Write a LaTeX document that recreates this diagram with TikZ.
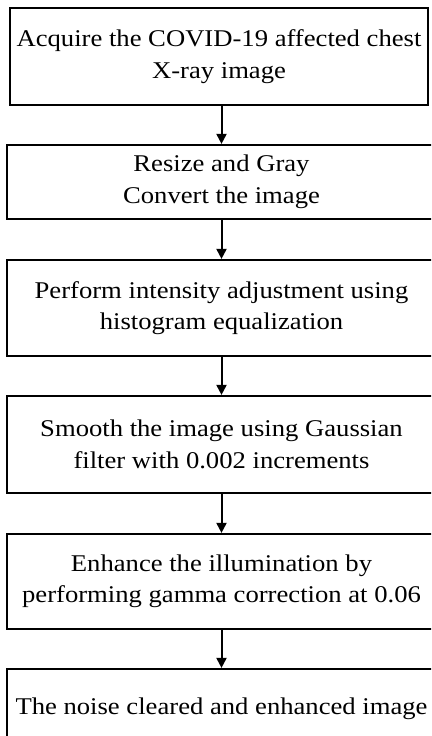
\documentclass[tikz,border=0pt]{standalone}
\usepackage{fontspec}
\setmainfont[FakeStretch=1.11]{Liberation Serif}
\usetikzlibrary{arrows.meta}

\begin{document}
\begin{tikzpicture}[x=1pt,y=1pt,>={Triangle[length=10pt,width=10pt]},line width=2pt,
  box/.style={draw,line width=2.2pt,align=center,inner sep=0pt,
    minimum width=429,font=\fontsize{24}{31.5}\selectfont}]
\useasboundingbox (0,0) rectangle (431,-736);
\clip (0,0) rectangle (431,-736);
% the six steps, top to bottom
\node[box,minimum width=418,minimum height=97] (acq) at (219,-56.5) {Acquire the COVID-19 affected chest\\X-ray image};
\node[box,minimum height=74] (rsz) at (221.5,-182) {Resize and Gray\\Convert the image};
\node[box,minimum height=96] (hist) at (221.5,-308) {Perform intensity adjustment using\\histogram equalization};
\node[box,minimum height=97] (smooth) at (221.5,-444.5) {Smooth the image using Gaussian\\filter with 0.002 increments};
\node[box,minimum height=95] (gamma) at (221.5,-581.5) {Enhance the illumination by\\performing gamma correction at 0.06};
\node[box,minimum height=80] (out) at (221.5,-709) {The noise cleared and enhanced image};
% arrows between them
\draw[->] (rsz.north |- acq.south) -- (rsz.north);
\draw[->] (rsz.south) -- (hist.north);
\draw[->] (hist.south) -- (smooth.north);
\draw[->] (smooth.south) -- (gamma.north);
\draw[->] (gamma.south) -- (out.north);
\end{tikzpicture}
\end{document}
